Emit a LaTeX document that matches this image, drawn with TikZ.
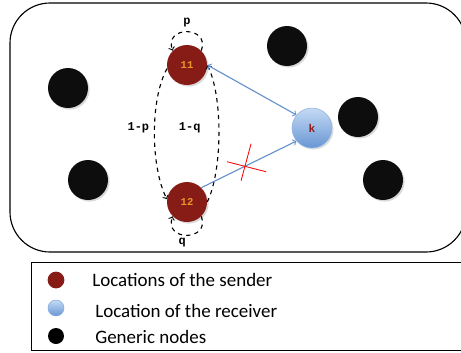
\documentclass[tikz,border=0pt]{standalone}
\usepackage{fontspec}
\setmainfont{Carlito}
\setmonofont{Liberation Mono}
\usetikzlibrary{shadows}
\definecolor{senderred}{RGB}{135,28,22}
\definecolor{labelorange}{RGB}{235,150,40}
\definecolor{receivertop}{RGB}{196,218,244}
\definecolor{receiverbottom}{RGB}{104,150,212}
\definecolor{linkblue}{RGB}{100,145,205}
\definecolor{kred}{RGB}{150,30,30}
\tikzset{
genericvertex/.style={circle, draw=none,fill=black!95, inner sep=0pt, minimum size= 1cm, drop shadow={opacity=.3,shadow xshift=.04cm,shadow yshift=-.04cm}},
sendervertex/.style={circle, draw=none,fill=senderred, inner sep=0pt, minimum size= 1cm, text=labelorange, font=\ttfamily\bfseries\fontsize{7.5}{8}\selectfont, drop shadow={opacity=.3,shadow xshift=.04cm,shadow yshift=-.04cm}},
receiververtex/.style={circle, draw=receiverbottom!70,top color=receivertop,bottom color=receiverbottom, inner sep=0pt, minimum size= 1cm, text=kred, font=\ttfamily\bfseries\fontsize{8}{9}\selectfont, drop shadow={opacity=.25,shadow xshift=.04cm,shadow yshift=-.04cm}},
legenddotv1/.style={circle, draw=none,fill=senderred, inner sep=0pt, minimum size= .42cm},
legenddotv2/.style={circle, draw=receiverbottom!80,top color=receivertop,bottom color=receiverbottom, inner sep=0pt, minimum size= .4cm},
legenddotv3/.style={circle, draw=none,fill=black, inner sep=0pt, minimum size= .4cm},
legendtext/.style={anchor=west, inner sep=0pt, font=\fontsize{13.5}{15}\selectfont},
problabel/.style={font=\ttfamily\bfseries\fontsize{8.5}{10}\selectfont},
}

\begin{document}
\begin{tikzpicture}
    \useasboundingbox (0,0) rectangle (11.525,-8.8);
    \draw[line width=.8pt,rounded corners=1cm] (0.25,-0.075) rectangle (11.65,-6.3);
    \draw[semithick] (0.775,-6.55) rectangle (11.65,-8.75);

    \node[genericvertex] at (1.7,-2.2) (g1) {};
    \node[genericvertex] at (7.175,-1.15) (g2) {};
    \node[genericvertex] at (2.2,-4.5) (g3) {};
    \node[genericvertex] at (8.95,-2.925) (g4) {};
    \node[genericvertex] at (9.575,-4.5) (g5) {};
    \node[sendervertex] at (4.675,-1.625) (l1) {11};
    \node[sendervertex] at (4.675,-5.05) (l2) {12};
    \node[receiververtex] at (7.8,-3.2) (k) {k};

     \draw[thick,black,dashed,->] (l1.45) to[out=70,in=110,looseness=2.4] node[problabel,above,yshift=-.02cm]{p} (l1.135);
     \draw[thick,black,dashed,->] (l2.-45) to[out=-70,in=-110,looseness=2.4] node[problabel,below,xshift=-.12cm,yshift=.05cm]{q} (l2.-135);
     \draw[thick,black,dashed,->] (l1.190) to[out=241,in=117,looseness=.7] node[problabel,left,yshift=.15cm]{1-p} (l2.172);
     \draw[thick,black,dashed,->] (l2.east) to[out=64,in=-63,looseness=.65] node[problabel,left,xshift=-.33cm,yshift=.15cm]{1-q} (l1.east);

     \draw[thick,linkblue,<->] (l1.east) to (k.140);
     \draw[thick,linkblue,->] (l2.45) to coordinate[pos=.47] (cut) (k.220);
     \draw[semithick,red] ([shift={(-0.475,0.1)}]cut) to ([shift={(0.5,-0.15)}]cut);
     \draw[semithick,red] ([shift={(0.125,0.55)}]cut) to ([shift={(-0.125,-0.375)}]cut);

    \node[legenddotv1] at (1.4,-7.0) (d1) {};
    \node[legenddotv2] at (1.4,-7.7) (d2) {};
    \node[legenddotv3] at (1.4,-8.4) (d3) {};
    \node[legendtext] at (2.3,-7.0) (t1) {Locations of the sender};
    \node[legendtext] at (2.375,-7.78) (t2) {Location of the receiver};
    \node[legendtext] at (2.375,-8.42) (t3) {Generic nodes};
\end{tikzpicture}
\end{document}
